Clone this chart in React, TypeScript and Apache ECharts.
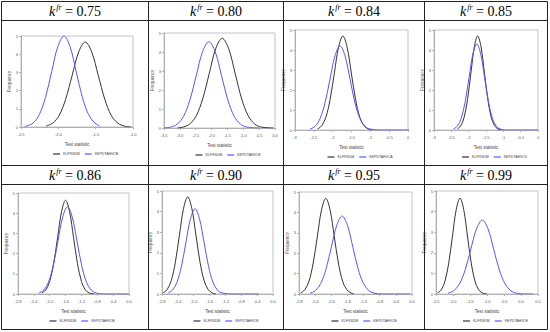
import React, { useEffect, useRef } from "react";
import * as echarts from "echarts";

// ---- data ----
const kfrValues = ["0.75", "0.80", "0.84", "0.85", "0.86", "0.90", "0.95", "0.99"];
const yTicks = ["0", "1", "2", "3", "4", "5"];

const xTicks1 = ["-2.5", "-2.0", "-1.5", "-1.0"];
const xTicks2 = ["-3.5", "-3.0", "-2.5", "-2.0", "-1.5", "-1.0", "-0.5", "0.0"];
const xTicks3 = ["-3", "-2.5", "-2", "-1.5", "-1", "-0.5", "0"];
const xTicks4 = ["-3", "-2.5", "-2", "-1.5", "-1", "-0.5", "0"];
const xTicks5 = ["-2.8", "-2.4", "-2.0", "-1.6", "-1.2", "-0.8", "-0.4", "0.0"];
const xTicks6 = ["-2.8", "-2.4", "-2.0", "-1.6", "-1.2", "-0.8", "-0.4", "0.0"];
const xTicks7 = ["-2.8", "-2.4", "-2.0", "-1.6", "-1.2", "-0.8", "-0.4", "0.0"];
const xTicks8 = ["-2.5", "-2.0", "-1.5", "-1.0", "-0.5", "0.0", "0.5"];

const legendBlack = ["KLFRSDM", "KLFRSDM", "KLFRSDM", "KLFRSDM", "KLFRSDM", "KLFRSDM", "KLFRSDM", "KLFRSDM"];
const legendBlue = ["KEPDTAHVCB", "KEPDTAHVCE", "KEPDTAHVCA", "KEPDTAHVCS", "KEPDTAHVCB", "KEPDTAHVCE", "KEPDTAHVCB", "KEPDTAHVCE"];

const black1 = [[0.67, 0.05], [0.845, 0.21], [1.02, 0.63], [1.195, 1.52], [1.37, 2.83], [1.545, 4.12], [1.72, 4.67], [1.895, 4.12], [2.07, 2.83], [2.245, 1.52], [2.42, 0.63], [2.595, 0.21], [2.77, 0.05], [2.95, 0.0]];
const blue1 = [[0.1, 0.01], [0.16, 0.06], [0.325, 0.22], [0.49, 0.68], [0.655, 1.62], [0.82, 3.03], [0.985, 4.41], [1.15, 5.0], [1.315, 4.41], [1.48, 3.03], [1.645, 1.62], [1.81, 0.68], [1.975, 0.22], [2.1, 0.06]];

const black2 = [[0.85, 0.0], [1.21, 0.05], [1.62, 0.21], [2.03, 0.64], [2.44, 1.53], [2.85, 2.86], [3.26, 4.17], [3.67, 4.72], [4.08, 4.17], [4.49, 2.86], [4.9, 1.53], [5.31, 0.64], [5.72, 0.21], [6.13, 0.05], [6.9, 0.0]];
const blue2 = [[0.0, 0.01], [0.43, 0.05], [0.83, 0.2], [1.23, 0.61], [1.63, 1.47], [2.03, 2.75], [2.43, 4.01], [2.83, 4.54], [3.23, 4.01], [3.63, 2.75], [4.03, 1.47], [4.43, 0.61], [4.83, 0.2], [5.23, 0.05], [6.0, 0.0]];

const black3 = [[1.19, 0.05], [1.415, 0.21], [1.64, 0.64], [1.865, 1.53], [2.09, 2.85], [2.315, 4.15], [2.54, 4.7], [2.765, 4.15], [2.99, 2.85], [3.215, 1.53], [3.44, 0.64], [3.665, 0.21], [3.89, 0.05], [4.1, 0.0]];
const blue3 = [[0.8, 0.05], [1.065, 0.18], [1.33, 0.57], [1.595, 1.36], [1.86, 2.55], [2.125, 3.71], [2.39, 4.2], [2.655, 3.71], [2.92, 2.55], [3.185, 1.36], [3.45, 0.57], [3.715, 0.18], [3.98, 0.05], [4.5, 0.0], [6.4, 0.0]];

const black4 = [[1.35, 0.05], [1.545, 0.21], [1.74, 0.64], [1.935, 1.53], [2.13, 2.85], [2.325, 4.15], [2.52, 4.7], [2.715, 4.15], [2.91, 2.85], [3.105, 1.53], [3.3, 0.64], [3.495, 0.21], [3.69, 0.05], [3.9, 0.0]];
const blue4 = [[1.12, 0.05], [1.345, 0.19], [1.57, 0.58], [1.795, 1.4], [2.02, 2.61], [2.245, 3.8], [2.47, 4.3], [2.695, 3.8], [2.92, 2.61], [3.145, 1.4], [3.37, 0.58], [3.595, 0.19], [3.82, 0.05], [4.3, 0.0], [6.0, 0.0]];

const black5 = [[1.5, 0.05], [1.75, 0.2], [2.0, 0.63], [2.25, 1.51], [2.5, 2.81], [2.75, 4.09], [3.0, 4.64], [3.25, 4.09], [3.5, 2.81], [3.75, 1.51], [4.0, 0.63], [4.25, 0.2], [4.5, 0.05], [4.8, 0.0]];
const blue5 = [[1.32, 0.05], [1.62, 0.19], [1.92, 0.58], [2.22, 1.4], [2.52, 2.62], [2.82, 3.81], [3.12, 4.32], [3.42, 3.81], [3.72, 2.62], [4.02, 1.4], [4.32, 0.58], [4.62, 0.19], [4.92, 0.05], [5.5, 0.0], [7.0, 0.0]];

const black6 = [[0.06, 0.05], [0.32, 0.21], [0.58, 0.64], [0.84, 1.53], [1.1, 2.86], [1.36, 4.16], [1.62, 4.71], [1.88, 4.16], [2.14, 2.86], [2.4, 1.53], [2.66, 0.64], [2.92, 0.21], [3.18, 0.05], [3.4, 0.0]];
const blue6 = [[0.37, 0.05], [0.655, 0.18], [0.94, 0.56], [1.225, 1.34], [1.51, 2.51], [1.795, 3.65], [2.08, 4.14], [2.365, 3.65], [2.65, 2.51], [2.935, 1.34], [3.22, 0.56], [3.505, 0.18], [3.79, 0.05], [4.4, 0.0], [6.1, 0.0]];

const black7 = [[0.1, 0.05], [0.36, 0.21], [0.62, 0.63], [0.88, 1.52], [1.14, 2.84], [1.4, 4.14], [1.66, 4.69], [1.92, 4.14], [2.18, 2.84], [2.44, 1.52], [2.7, 0.63], [2.96, 0.21], [3.22, 0.05], [3.4, 0.0]];
const blue7 = [[0.69, 0.04], [1.02, 0.17], [1.35, 0.52], [1.68, 1.24], [2.01, 2.32], [2.34, 3.37], [2.67, 3.82], [3.0, 3.37], [3.33, 2.32], [3.66, 1.24], [3.99, 0.52], [4.32, 0.17], [4.65, 0.04], [5.2, 0.0], [6.9, 0.0]];

const black8 = [[0.09, 0.05], [0.31, 0.2], [0.53, 0.63], [0.75, 1.51], [0.97, 2.82], [1.19, 4.1], [1.41, 4.65], [1.63, 4.1], [1.85, 2.82], [2.07, 1.51], [2.29, 0.63], [2.51, 0.2], [2.73, 0.05], [3.0, 0.0]];
const blue8 = [[0.71, 0.04], [1.045, 0.16], [1.38, 0.49], [1.715, 1.17], [2.05, 2.18], [2.385, 3.17], [2.72, 3.59], [3.055, 3.17], [3.39, 2.18], [3.725, 1.17], [4.06, 0.49], [4.395, 0.16], [4.73, 0.04], [5.2, 0.0], [5.7, 0.0]];

const xTicksAll = [xTicks1, xTicks2, xTicks3, xTicks4, xTicks5, xTicks6, xTicks7, xTicks8];
const blackAll = [black1, black2, black3, black4, black5, black6, black7, black8];
const blueAll = [blue1, blue2, blue3, blue4, blue5, blue6, blue7, blue8];

// ---- layout ----
const colX = [1.5, 148.5, 283.5, 424.5, 547.5];
const rowY = [1.5, 20.5, 165.5, 184.5, 329.5];
// plot boxes: [left, top, right, bottom]
const plots = [
  [21, 36, 133, 127],
  [164, 33, 275, 128],
  [295, 30, 408, 130],
  [434, 30, 538, 130],
  [18, 193, 129, 294],
  [162, 191, 273, 294],
  [299, 192, 412, 294],
  [436, 191, 538, 294],
];

const BLACK = "#333333";
const BLUE = "#5656ff";
const SANS = "Liberation Sans, Arial, sans-serif";
const SERIF = "Liberation Serif";

function buildOption() {
  const grid: any[] = [];
  const xAxis: any[] = [];
  const yAxis: any[] = [];
  const series: any[] = [];
  const legend: any[] = [];
  const title: any[] = [];

  plots.forEach((p, i) => {
    const [l, t, r, b] = p;
    const ticks = xTicksAll[i];
    grid.push({
      left: l,
      top: t,
      width: r - l,
      height: b - t,
      show: true,
      borderColor: "#c4c4c4",
      borderWidth: 1,
      backgroundColor: "#ffffff",
    });
    xAxis.push({
      type: "value",
      gridIndex: i,
      min: 0,
      max: ticks.length - 1,
      interval: 1,
      name: "Test statistic",
      nameLocation: "middle",
      nameGap: 15,
      nameTextStyle: { fontSize: 4.5, color: "#444", fontFamily: SANS },
      axisLine: { show: true, lineStyle: { color: "#b0b0b0", width: 1 } },
      axisTick: { show: true, length: 2, lineStyle: { color: "#b0b0b0" } },
      axisLabel: {
        fontSize: 4,
        color: "#555",
        margin: 5,
        fontFamily: SANS,
        formatter: (v: number) => ticks[Math.round(v)] ?? "",
      },
      splitLine: { show: false },
    });
    yAxis.push({
      type: "value",
      gridIndex: i,
      min: 0,
      max: 5,
      interval: 1,
      name: "Frequency",
      nameLocation: "middle",
      nameGap: 8,
      nameTextStyle: { fontSize: 4.5, color: "#555", fontFamily: SANS },
      axisLine: { show: true, lineStyle: { color: "#b0b0b0", width: 1 } },
      axisTick: { show: true, length: 2, lineStyle: { color: "#b0b0b0" } },
      axisLabel: {
        fontSize: 4,
        color: "#555",
        margin: 3,
        fontFamily: SANS,
        formatter: (v: number) => yTicks[Math.round(v)] ?? "",
      },
      splitLine: { show: false },
    });
    series.push({
      type: "line",
      name: legendBlack[i],
      xAxisIndex: i,
      yAxisIndex: i,
      data: blackAll[i],
      smooth: 0.35,
      showSymbol: false,
      lineStyle: { color: BLACK, width: 1 },
      itemStyle: { color: BLACK },
    });
    series.push({
      type: "line",
      name: legendBlue[i],
      xAxisIndex: i,
      yAxisIndex: i,
      data: blueAll[i],
      smooth: 0.35,
      showSymbol: false,
      lineStyle: { color: BLUE, width: 1 },
      itemStyle: { color: BLUE },
    });
    const cx = (l + r) / 2;
    legend.push({
      data: [legendBlack[i], legendBlue[i]],
      left: cx - 24,
      top: b + 25,
      icon: "rect",
      itemWidth: 7,
      itemHeight: 1.2,
      itemGap: 5,
      padding: 0,
      selectedMode: false,
      textStyle: { fontSize: 3.5, color: "#444", fontFamily: SANS, padding: [0, 0, 0, -2] },
    });
  });

  kfrValues.forEach((k, i) => {
    const c = i % 4;
    const r = Math.floor(i / 4);
    const cx = (colX[c] + colX[c + 1]) / 2;
    const top = rowY[r * 2] + 2;
    title.push({
      text: `{k|k}{s|fr}{e| = ${k}}`,
      left: cx,
      top,
      textAlign: "center",
      padding: 0,
      textStyle: {
        fontFamily: SERIF,
        fontWeight: "normal",
        fontSize: 14,
        color: "#000",
        rich: {
          k: { fontFamily: SERIF, fontWeight: "normal", fontStyle: "italic", fontSize: 14, lineHeight: 16, color: "#000" },
          s: { fontFamily: SERIF, fontWeight: "normal", fontStyle: "italic", fontSize: 8, lineHeight: 10, verticalAlign: "top", color: "#000", padding: [0, 0, 0, 1] },
          e: { fontFamily: SERIF, fontWeight: "normal", fontSize: 14, lineHeight: 16, color: "#000" },
        },
      },
    });
  });

  const graphic: any[] = [];
  colX.forEach((x) => {
    graphic.push({
      type: "line",
      shape: { x1: x, y1: rowY[0], x2: x, y2: rowY[4] },
      style: { stroke: "#222", lineWidth: 1 },
      z: 100,
    });
  });
  rowY.forEach((y) => {
    graphic.push({
      type: "line",
      shape: { x1: colX[0], y1: y, x2: colX[4], y2: y },
      style: { stroke: "#222", lineWidth: 1 },
      z: 100,
    });
  });

  return {
    animation: false,
    backgroundColor: "#ffffff",
    grid,
    xAxis,
    yAxis,
    series,
    legend,
    title,
    graphic,
  };
}

export default function App() {
  const ref = useRef<HTMLDivElement>(null);
  useEffect(() => {
    if (!ref.current) return;
    const chart = echarts.init(ref.current, undefined, { renderer: "svg" });
    chart.setOption(buildOption() as any);
    return () => chart.dispose();
  }, []);
  return (
    <div
      ref={ref}
      style={{ position: "absolute", left: 0, top: 0, width: 550, height: 332 }}
    />
  );
}
